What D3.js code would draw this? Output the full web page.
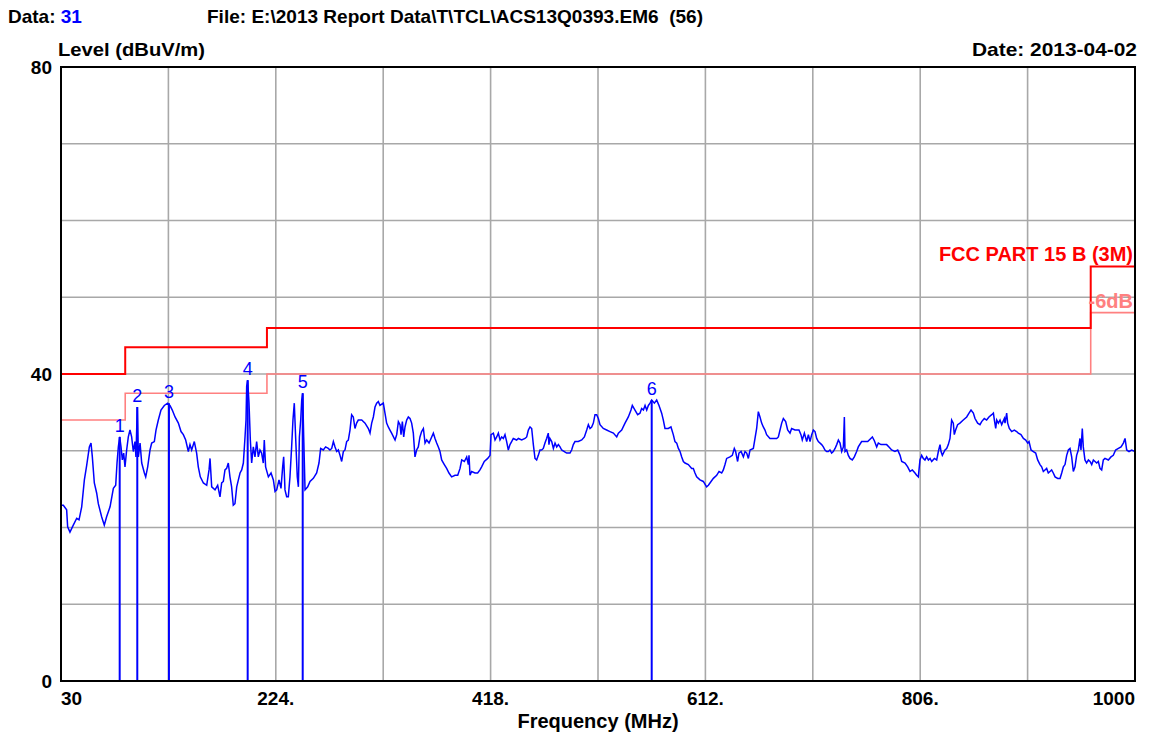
<!DOCTYPE html>
<html>
<head>
<meta charset="utf-8">
<script src="https://cdn.jsdelivr.net/npm/d3@7"></script>
<style>
  html, body { margin: 0; padding: 0; background: #fff; }
  svg { display: block; }
  text { font-family: "Liberation Sans", Arial, sans-serif; white-space: pre; }
</style>
</head>
<body>
<svg id="chart" width="1159" height="735"></svg>
<script>
// ---------------- data ----------------
const dataNumber = "31";
const fileLabel = "File: E:\\2013 Report Data\\T\\TCL\\ACS13Q0393.EM6\u00a0\u00a0(56)";
const dateLabel = "Date: 2013-04-02";
const yTitle = "Level (dBuV/m)";
const xTitle = "Frequency (MHz)";
const limitName = "FCC PART 15 B (3M)";
const marginName = "-6dB";

const xTickValues = [30, 224, 418, 612, 806, 1000];
const xTickLabels = ["30", "224.", "418.", "612.", "806.", "1000"];
const yTickValues = [0, 40, 80];

// limit line (FCC Part 15 B, 3 m)
const limitFreq  = [30, 88, 88, 216, 216, 960, 960, 1000];
const limitLevel = [40, 40, 43.5, 43.5, 46, 46, 54, 54];
const marginOffset = 6;

// markers
const markerFreq  = [83.0, 98.9, 127.5, 198.6, 248.3, 563.5];
const markerLevel = [31.8, 35.7, 36.2, 39.2, 37.5, 36.6];
const markerLabels = ["1", "2", "3", "4", "5", "6"];

// measured trace
const traceFreq = [
30.0,32.1,35.1,36.0,38.1,41.1,44.2,46.3,48.7,51.1,53.2,55.6,57.1,58.3,60.1,62.2,63.7,66.7,69.1,71.2,
74.3,77.3,79.4,80.6,81.8,83.0,84.2,85.4,86.6,87.8,89.3,90.8,92.3,93.8,95.3,96.8,97.7,98.9,99.9,101.4,
102.9,105.3,106.5,108.3,110.4,111.9,114.3,115.8,117.9,120.3,123.3,126.3,128.4,130.5,133.0,136.0,138.4,140.5,142.6,145.0,
146.5,148.0,150.4,152.5,154.0,155.8,158.6,161.6,163.7,164.6,166.1,169.1,171.5,173.6,175.1,176.6,178.1,179.6,181.1,182.6,
184.1,185.6,187.1,188.7,190.2,191.7,193.2,194.7,196.2,197.1,197.7,198.6,199.8,201.0,202.2,203.7,205.2,206.7,208.2,209.7,
211.2,212.7,213.6,214.8,217.3,219.7,221.8,223.3,224.8,226.9,228.7,230.2,231.1,232.3,233.8,235.3,236.8,238.3,239.5,240.7,
241.9,243.4,244.4,245.3,246.5,247.4,248.3,249.2,250.4,252.8,254.9,257.9,260.9,263.0,264.5,266.9,269.0,271.4,272.9,274.5,
276.0,277.5,279.0,280.5,282.0,283.5,285.0,286.5,288.0,289.5,291.0,292.5,294.0,295.5,297.0,298.5,301.6,304.6,307.6,309.1,
310.6,312.1,313.6,315.1,316.6,318.1,321.1,322.6,324.1,325.6,327.1,328.6,331.7,333.2,334.7,336.2,337.1,338.3,339.5,340.7,
342.2,343.7,345.2,346.7,348.2,349.7,351.2,352.7,354.2,355.7,357.3,358.8,360.3,362.4,364.2,366.3,367.8,369.3,370.8,372.3,
373.8,376.2,378.3,380.4,382.8,385.9,388.3,390.4,391.9,394.3,396.4,397.9,398.5,399.4,400.9,403.9,406.3,408.4,409.9,412.3,
415.4,417.5,418.4,420.5,422.0,423.5,425.0,426.5,428.0,429.5,431.0,432.5,434.0,435.5,437.0,438.5,441.5,443.1,446.1,449.1,
450.6,452.1,453.6,455.1,456.6,458.1,459.6,461.1,462.6,464.1,465.6,467.1,468.6,470.1,470.7,471.6,473.2,474.7,476.2,477.7,
479.2,480.7,482.2,484.6,486.7,489.7,491.2,492.7,494.2,497.2,500.3,502.7,504.8,506.3,507.8,509.3,510.8,512.3,513.8,515.3,
516.8,519.8,522.8,525.8,528.9,531.9,533.4,536.4,539.4,542.4,544.8,546.0,548.4,550.8,552.9,554.4,556.0,557.5,559.0,560.5,
562.0,563.5,565.9,568.0,570.1,572.5,574.0,575.5,578.5,580.9,583.0,584.5,586.1,587.6,589.1,590.6,592.1,593.6,596.6,599.6,
601.1,602.6,604.1,607.1,610.1,613.1,614.7,617.1,619.2,622.2,624.3,626.7,628.2,629.7,631.2,634.2,636.3,638.1,639.3,641.1,
642.3,644.2,646.3,647.8,649.3,650.8,652.3,655.3,656.8,658.3,659.8,661.3,662.8,664.3,665.8,667.3,670.3,673.4,676.4,677.9,
679.4,680.9,682.4,684.5,686.3,688.4,689.9,692.9,696.5,698.3,699.5,701.4,703.5,705.0,706.5,708.0,709.5,711.0,712.5,714.0,
717.0,718.5,720.0,721.5,723.0,724.5,726.0,727.5,729.1,730.6,732.1,733.6,735.1,736.6,737.5,738.1,739.6,741.1,742.6,744.7,
746.5,748.6,750.1,753.1,755.5,758.6,760.7,762.8,764.6,766.7,768.2,770.6,772.7,775.7,777.8,780.2,783.2,785.7,787.8,789.3,
792.3,794.7,796.8,798.9,801.3,802.8,804.3,805.8,807.3,808.8,810.3,811.8,813.4,814.9,816.4,818.8,820.9,822.4,823.9,824.8,
826.0,828.4,829.9,831.4,832.9,834.4,835.9,836.8,838.0,839.8,841.9,844.9,848.0,850.1,851.9,854.0,855.5,857.9,860.0,861.5,
863.9,866.0,868.1,870.6,872.1,873.0,874.2,875.1,876.6,878.1,879.6,882.0,882.6,884.1,885.0,886.5,888.6,891.0,893.1,894.6,
897.0,899.2,901.3,903.1,904.3,906.1,908.2,910.3,912.1,914.2,915.7,917.2,918.7,920.2,921.7,923.2,924.7,926.2,927.8,930.2,
932.3,933.8,935.3,936.8,938.3,939.8,941.3,942.8,944.3,945.8,947.3,948.8,950.3,951.2,952.4,953.3,954.8,956.3,957.9,959.4,
960.9,962.4,963.9,965.4,966.9,968.4,969.9,971.4,972.9,975.9,978.3,980.4,982.5,985.0,987.4,989.5,991.0,992.5,994.6,997.0,
1000.0
];
const traceLevel = [
22.9,22.9,22.3,20.1,19.4,20.3,21.2,21.0,22.7,26.2,28.1,30.5,31.0,29.2,25.8,24.5,23.1,21.4,20.3,21.4,
22.7,25.1,25.5,28.4,30.5,31.8,30.5,28.8,29.7,27.9,30.1,31.8,32.7,31.8,29.9,31.2,29.2,35.7,29.2,31.0,
28.4,27.1,26.6,27.9,30.1,31.0,31.2,32.7,34.0,35.3,35.9,36.2,35.9,35.3,34.4,33.6,32.5,32.1,31.4,29.9,
30.8,30.1,31.2,29.7,27.9,26.6,25.8,25.5,27.5,29.0,25.3,24.9,25.5,24.0,25.8,26.0,27.5,27.7,28.4,26.6,
25.3,22.9,23.1,25.3,26.2,27.1,27.5,28.4,31.8,34.0,38.4,39.2,36.2,31.4,28.4,30.5,29.2,31.2,29.2,30.1,
29.7,28.4,31.4,27.9,26.6,27.1,26.2,24.7,24.9,26.2,25.1,27.9,29.2,24.9,24.0,24.0,26.6,30.5,34.0,36.2,
31.8,26.6,25.3,31.8,34.0,36.6,37.5,31.8,24.9,25.3,26.0,26.4,27.1,28.4,30.3,30.1,30.5,30.3,30.1,30.3,
31.2,30.5,29.9,30.1,29.4,28.6,29.9,30.1,31.2,31.4,32.7,34.7,34.4,32.9,33.6,34.0,34.0,33.6,32.9,32.3,
33.6,34.4,35.7,36.2,36.4,35.9,36.2,34.9,33.6,33.1,32.7,32.3,31.4,32.1,33.8,33.4,32.1,33.8,31.8,33.1,
34.0,34.4,34.2,33.6,32.3,29.2,30.1,30.5,31.8,32.5,32.9,31.0,31.4,31.0,31.6,32.3,31.6,31.0,30.5,29.9,
28.8,28.2,27.7,27.1,26.6,26.8,26.8,27.7,28.8,28.6,29.2,28.2,29.4,26.8,27.3,27.1,27.1,27.5,27.9,28.6,
29.0,29.4,32.1,32.3,31.4,31.8,32.3,31.4,31.8,31.6,32.1,31.2,30.1,30.8,31.2,31.6,31.4,31.6,31.4,31.6,
31.8,32.7,33.1,32.9,30.8,29.0,28.8,29.4,30.1,30.1,30.3,31.0,31.6,32.3,30.8,31.6,31.2,30.3,31.0,30.5,
30.8,30.5,30.1,29.9,29.7,29.7,30.1,30.8,31.2,31.2,31.4,31.8,32.7,33.4,32.9,33.1,33.6,34.7,34.7,34.2,
33.4,32.9,32.7,32.5,32.3,31.8,32.3,32.7,33.6,34.4,35.3,35.9,35.3,34.7,34.9,35.5,35.3,35.9,35.3,35.9,
36.2,36.6,36.2,36.6,35.9,34.9,34.0,32.9,32.9,33.1,32.1,31.2,31.0,30.3,29.9,29.2,28.6,28.4,28.2,27.7,
27.7,27.1,26.6,26.2,26.0,25.3,25.5,26.0,26.4,26.8,27.3,27.1,27.5,28.2,29.0,29.2,29.4,30.3,29.9,28.6,
29.7,29.9,29.2,29.9,29.7,29.0,30.1,30.3,31.6,32.9,35.1,34.4,33.6,33.1,32.7,32.1,31.6,31.6,31.6,31.8,
32.7,33.6,34.2,33.8,32.7,32.3,32.9,32.7,32.7,32.1,31.4,32.3,31.2,32.1,31.2,32.1,32.7,32.5,31.6,31.2,
30.8,30.5,30.1,29.9,29.9,30.1,29.7,29.9,30.3,30.8,31.4,31.0,29.9,30.5,34.4,29.9,30.1,29.4,29.0,28.8,
29.2,29.9,30.5,31.2,31.2,31.2,31.5,31.8,31.3,30.5,31.0,30.8,30.8,30.8,30.5,30.1,29.9,30.1,29.4,28.6,
28.4,27.9,27.3,27.5,27.1,26.8,26.6,28.8,29.4,29.0,28.8,29.2,28.8,29.0,28.6,29.0,28.8,29.9,30.8,29.9,
29.4,30.1,30.3,30.8,31.6,34.0,33.6,32.1,32.7,33.4,33.6,34.0,34.4,34.9,35.3,34.9,34.2,33.6,33.4,33.8,
34.2,34.0,34.4,34.7,34.9,34.0,32.9,34.0,33.6,34.0,33.4,34.2,33.6,34.9,33.6,32.9,32.5,32.7,32.5,32.3,
32.1,31.6,31.4,31.0,31.2,30.1,29.9,29.7,28.8,28.2,27.9,27.3,27.5,27.7,27.1,27.3,27.5,27.1,26.6,26.4,
26.4,27.1,27.9,28.2,29.4,30.1,30.3,29.2,27.3,27.9,29.4,30.1,31.6,30.1,32.9,30.5,28.8,28.4,28.8,28.6,
28.2,28.8,28.6,28.4,28.6,27.7,27.5,28.8,29.0,28.8,29.2,29.4,30.1,30.3,30.5,31.0,31.6,30.1,29.9,30.1,
29.9
];

// ---------------- layout ----------------
const svg = d3.select("#chart");
const plot = { left: 61, right: 1135, top: 67, bottom: 681 };

const x = d3.scaleLinear().domain([30, 1000]).range([plot.left, plot.right]);
const y = d3.scaleLinear().domain([0, 80]).range([plot.bottom, plot.top]);

const gridColor = "#a8a8a8";
const blue = "#0000ff";
const red = "#ff0000";
const pink = "#ff8080";
const fontBold = "bold 19px 'Liberation Sans', Arial, sans-serif";
const fontBold20 = "bold 20px 'Liberation Sans', Arial, sans-serif";

// grid
const xGrid = d3.range(30, 1000.1, 97);
const yGrid = d3.range(0, 80.1, 10);
svg.append("g").selectAll("line").data(xGrid).join("line")
  .attr("x1", d => x(d)).attr("x2", d => x(d))
  .attr("y1", plot.top).attr("y2", plot.bottom)
  .attr("stroke", gridColor).attr("stroke-width", 1.6);
svg.append("g").selectAll("line").data(yGrid).join("line")
  .attr("y1", d => y(d)).attr("y2", d => y(d))
  .attr("x1", plot.left).attr("x2", plot.right)
  .attr("stroke", gridColor).attr("stroke-width", 1.6);

// clip
svg.append("clipPath").attr("id", "clip").append("rect")
  .attr("x", plot.left).attr("y", plot.top)
  .attr("width", plot.right - plot.left).attr("height", plot.bottom - plot.top);

const g = svg.append("g").attr("clip-path", "url(#clip)");

const lineGen = d3.line().x(d => x(d[0])).y(d => y(d[1]));
// margin (-6 dB) line
g.append("path")
  .datum(limitFreq.map((f, i) => [f, limitLevel[i] - marginOffset]))
  .attr("d", lineGen).attr("fill", "none")
  .attr("stroke", pink).attr("stroke-width", 1.6);
// limit line
g.append("path")
  .datum(limitFreq.map((f, i) => [f, limitLevel[i]]))
  .attr("d", lineGen).attr("fill", "none")
  .attr("stroke", red).attr("stroke-width", 2);

// markers
g.append("g").selectAll("line").data(markerFreq).join("line")
  .attr("x1", d => x(d)).attr("x2", d => x(d))
  .attr("y1", y(0)).attr("y2", (d, i) => y(markerLevel[i]))
  .attr("stroke", blue).attr("stroke-width", 2);

// trace
g.append("path")
  .datum(traceFreq.map((f, i) => [f, traceLevel[i]]))
  .attr("d", lineGen).attr("fill", "none")
  .attr("stroke", blue).attr("stroke-width", 1.5);

// marker labels
svg.append("g").selectAll("text").data(markerLabels).join("text")
  .attr("x", (d, i) => x(markerFreq[i]))
  .attr("y", (d, i) => y(markerLevel[i]) - 5)
  .attr("text-anchor", "middle")
  .attr("fill", blue)
  .style("font", "18px 'Liberation Sans', Arial, sans-serif")
  .text(d => d);

// frame
svg.append("rect")
  .attr("x", plot.left).attr("y", plot.top)
  .attr("width", plot.right - plot.left).attr("height", plot.bottom - plot.top)
  .attr("fill", "none").attr("stroke", "#000").attr("stroke-width", 2);

// y tick labels
svg.append("g").selectAll("text").data(yTickValues).join("text")
  .attr("x", 52).attr("y", d => y(d) + 7)
  .attr("text-anchor", "end")
  .style("font", fontBold)
  .text(d => d);

// x tick labels
svg.append("g").selectAll("text").data(xTickValues).join("text")
  .attr("x", d => x(d))
  .attr("y", 705)
  .attr("text-anchor", (d, i) => i === 0 ? "start" : (i === xTickValues.length - 1 ? "end" : "middle"))
  .style("font", fontBold)
  .text((d, i) => xTickLabels[i]);

// titles
const head = svg.append("text").attr("x", 8).attr("y", 23).style("font", fontBold);
head.append("tspan").text("Data: ");
head.append("tspan").attr("fill", blue).text(dataNumber);

svg.append("text").attr("x", 207).attr("y", 23).style("font", fontBold)
  .attr("textLength", 496).attr("lengthAdjust", "spacingAndGlyphs").text(fileLabel);
svg.append("text").attr("x", 58).attr("y", 56).style("font", fontBold)
  .attr("textLength", 147).attr("lengthAdjust", "spacingAndGlyphs").text(yTitle);
svg.append("text").attr("x", 972).attr("y", 56).style("font", fontBold)
  .attr("textLength", 165).attr("lengthAdjust", "spacingAndGlyphs").text(dateLabel);
svg.append("text").attr("x", (plot.left + plot.right) / 2).attr("y", 728)
  .attr("text-anchor", "middle").style("font", fontBold20).text(xTitle);

// limit labels
svg.append("text").attr("x", 1133).attr("y", y(54) - 6)
  .attr("text-anchor", "end").attr("fill", red).style("font", fontBold20).text(limitName);
svg.append("text").attr("x", 1133).attr("y", y(54 - marginOffset) - 5)
  .attr("text-anchor", "end").attr("fill", pink).style("font", fontBold20).text(marginName);
</script>
</body>
</html>
